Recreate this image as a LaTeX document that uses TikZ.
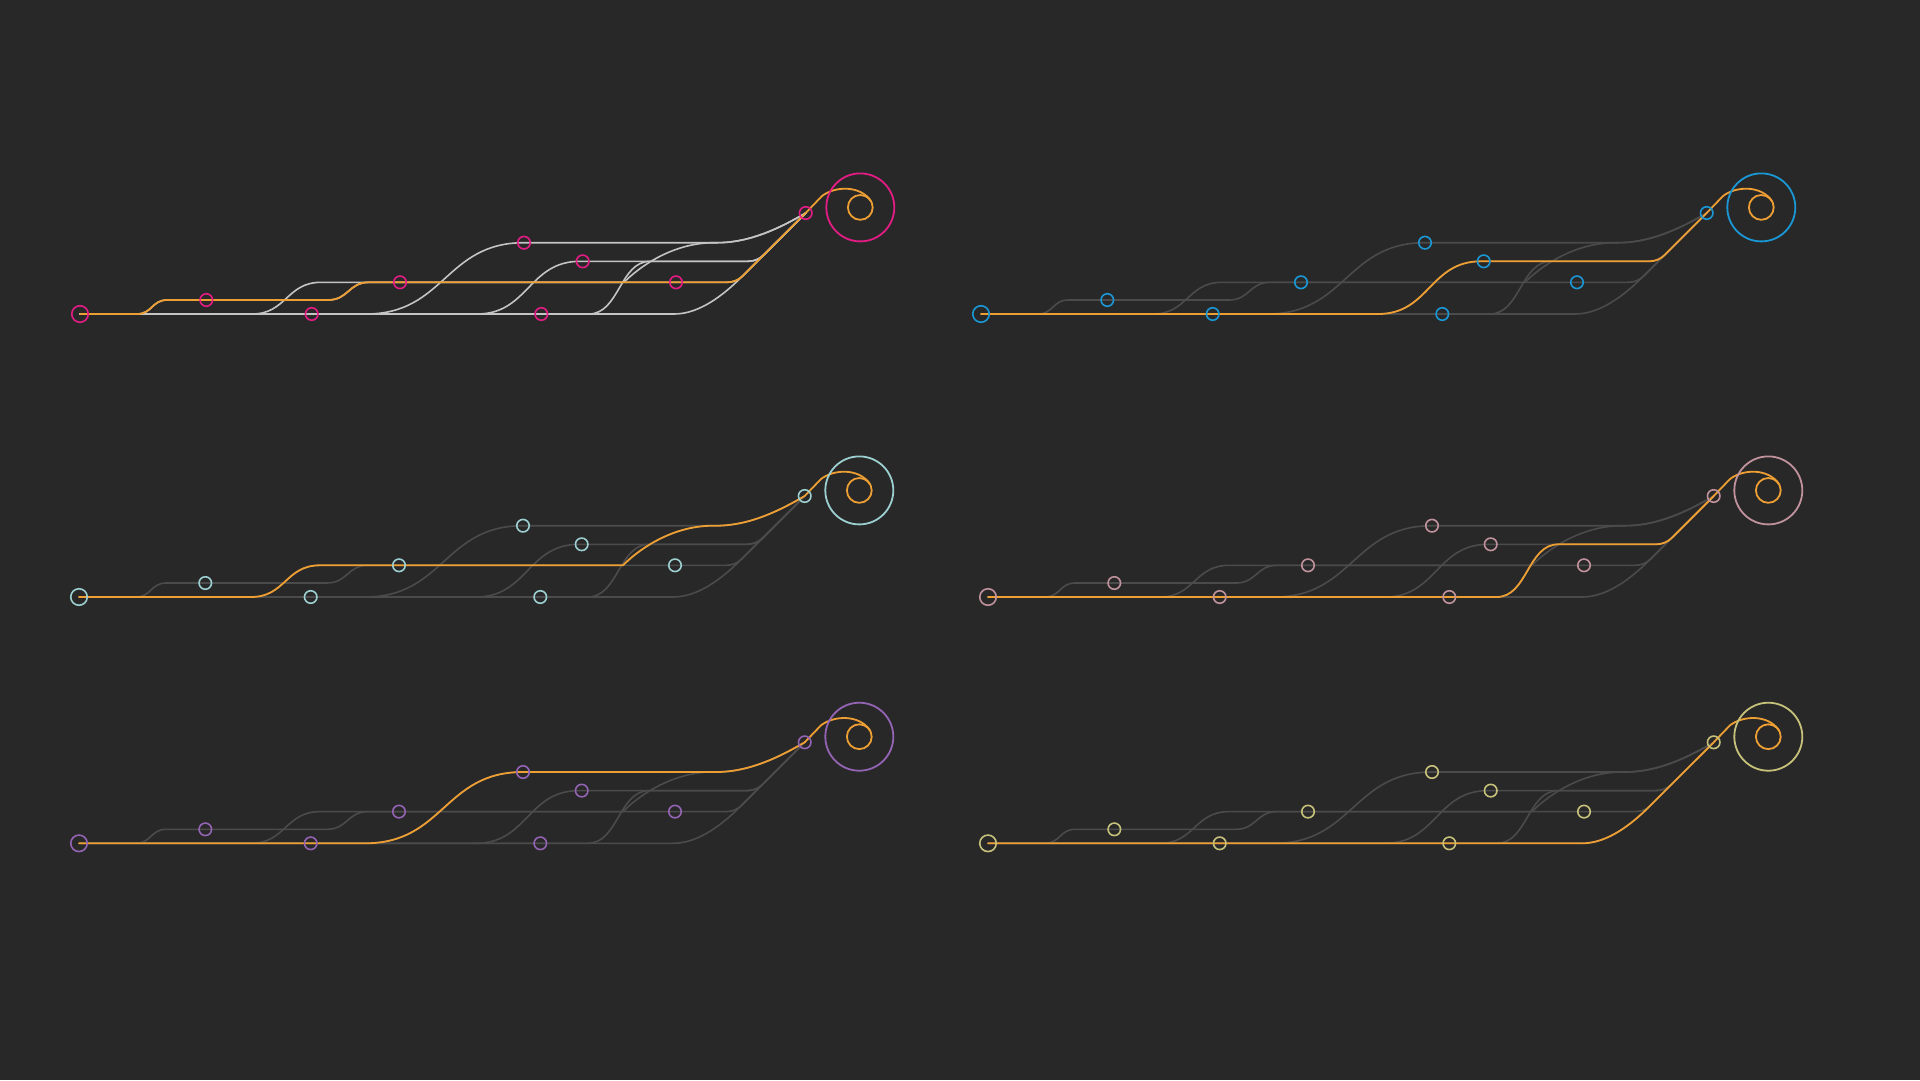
\documentclass[tikz,border=0pt]{standalone}
\definecolor{bgc}{HTML}{292829}
\definecolor{orng}{HTML}{EE9F33}
\definecolor{trkLite}{HTML}{C4C4C4}
\definecolor{trkDim}{HTML}{4B4B4B}
\definecolor{accMag}{HTML}{E31C84}
\definecolor{accBlue}{HTML}{1A98D5}
\definecolor{accTeal}{HTML}{9CCFD0}
\definecolor{accPink}{HTML}{C0939C}
\definecolor{accPurp}{HTML}{9464B4}
\definecolor{accKhaki}{HTML}{C7C27A}
\tikzset{
  track/.style={line width=1.6pt, line cap=round, line join=round},
  route/.style={track, draw=orng, line width=1.8pt},
  station/.style={circle, draw, line width=1.6pt, minimum size=12.5pt, inner sep=0pt},
  startstn/.style={station, minimum size=16.5pt},
  endring/.style={station, minimum size=68pt, line width=1.8pt},
  endcore/.style={station, draw=orng, minimum size=24.8pt, line width=1.8pt},
}
% routes in panel-local pixel coordinates (y downwards)
\newcommand\rtA{(80,314) -- (137,314) .. controls (152,314) and (152,300) .. (167,300) -- (328,300) .. controls (348.5,300) and (348.5,282.3) .. (369,282.3) -- (727,282.3) .. controls (733.3,282.3) and (738.6,280.1) .. (743,275.7) -- (805.7,213)}
\newcommand\rtB{(80,314) -- (477,314) .. controls (528.5,314) and (528.5,261.3) .. (580,261.3) -- (748,261.3) .. controls (754.3,261.3) and (759.6,259.1) .. (764.05,254.65) -- (805.7,213)}
\newcommand\rtC{(80,314) -- (252,314) .. controls (286.5,314) and (286.5,282.3) .. (321,282.3) -- (624,282.3) .. controls (636,270) and (670,242.7) .. (714,242.7) -- (717,242.7) .. controls (750,242.7) and (780,228) .. (805.7,213)}
\newcommand\rtD{(80,314) -- (588.7,314) .. controls (619.5,314) and (619.5,261.3) .. (650.3,261.3) -- (748,261.3) .. controls (754.3,261.3) and (759.6,259.1) .. (764.05,254.65) -- (805.7,213)}
\newcommand\rtE{(80,314) -- (366,314) .. controls (445,314) and (445,242.7) .. (524,242.7) -- (717,242.7) .. controls (750,242.7) and (780,228) .. (805.7,213)}
\newcommand\rtF{(80,314) -- (674,314) .. controls (694.5,314) and (717,301.7) .. (741.5,277) -- (805.7,213)}
\newcommand\tailcurl{-- (822,196) .. controls (835,186) and (860,185) .. (871,201)}
% #1 prefix, #2 dx, #3 dy, #4 track colour, #5 accent colour, #6 highlighted route
\newcommand\mappanel[6]{%
\begin{scope}[shift={(#2,#3)}]
  \draw[track, draw=#4] \rtA;
  \draw[track, draw=#4] \rtB;
  \draw[track, draw=#4] \rtC;
  \draw[track, draw=#4] \rtD;
  \draw[track, draw=#4] \rtE;
  \draw[track, draw=#4] \rtF;
  \draw[route] #6 \tailcurl;
  \node[startstn, draw=#5] (#1S) at (80,314) {};
  \node[station, draw=#5] (#1a) at (206.3,300) {};
  \node[station, draw=#5] (#1b) at (311.7,314) {};
  \node[station, draw=#5] (#1c) at (400,282.3) {};
  \node[station, draw=#5] (#1d) at (524,242.7) {};
  \node[station, draw=#5] (#1e) at (541.3,314) {};
  \node[station, draw=#5] (#1f) at (582.7,261.3) {};
  \node[station, draw=#5] (#1g) at (676,282.3) {};
  \node[station, draw=#5] (#1h) at (805.7,213) {};
  \node[endring, draw=#5] (#1E) at (860.3,207.4) {};
  \node[endcore] (#1K) at (860.3,207.4) {};
\end{scope}}
\begin{document}
\begin{tikzpicture}[x=1pt, y=-1pt]
  \fill[bgc] (0,0) rectangle (1920,1080);
  \useasboundingbox (0,0) rectangle (1920,1080);
  \mappanel{pa}{0}{0}{trkLite}{accMag}{\rtA}
  \mappanel{pb}{901}{0}{trkDim}{accBlue}{\rtB}
  \mappanel{pc}{-1}{283}{trkDim}{accTeal}{\rtC}
  \mappanel{pd}{908}{283}{trkDim}{accPink}{\rtD}
  \mappanel{pe}{-1}{529.3}{trkDim}{accPurp}{\rtE}
  \mappanel{pf}{908}{529.3}{trkDim}{accKhaki}{\rtF}
\end{tikzpicture}
\end{document}
